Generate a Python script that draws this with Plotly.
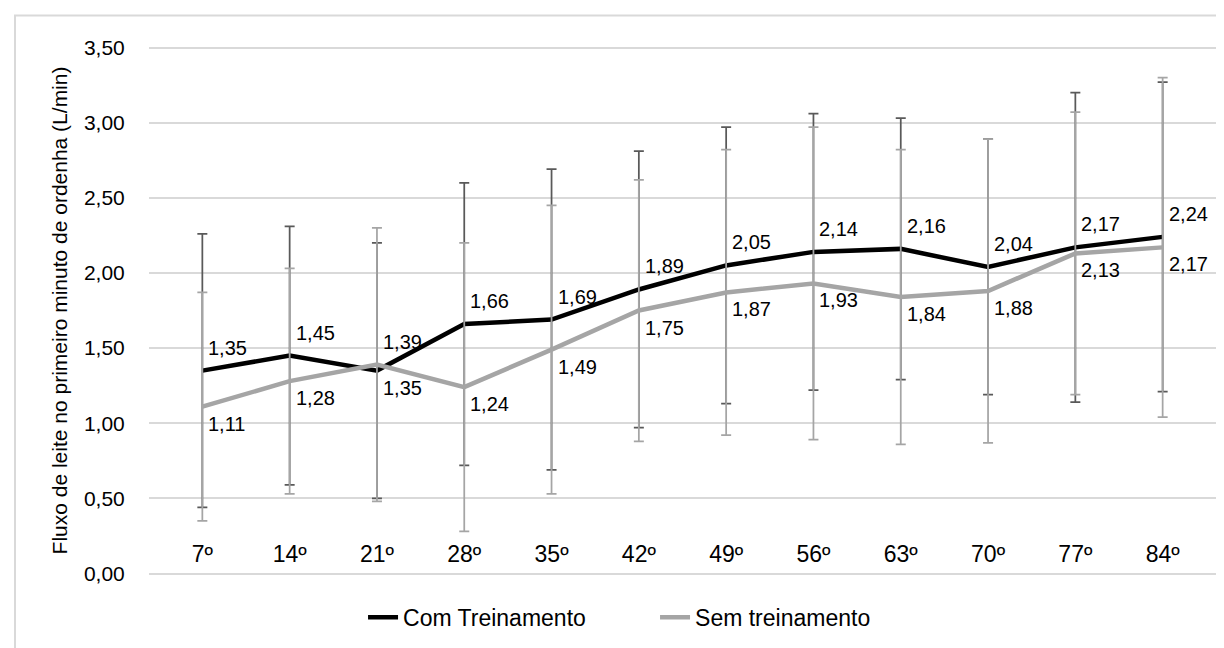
import plotly.graph_objects as go

days = ["7º", "14º", "21º", "28º", "35º", "42º", "49º", "56º", "63º", "70º", "77º", "84º"]
com_mean = [1.35, 1.45, 1.35, 1.66, 1.69, 1.89, 2.05, 2.14, 2.16, 2.04, 2.17, 2.24]
com_sd = [0.91, 0.86, 0.85, 0.94, 1.00, 0.92, 0.92, 0.92, 0.87, 0.85, 1.03, 1.03]
sem_mean = [1.11, 1.28, 1.39, 1.24, 1.49, 1.75, 1.87, 1.93, 1.84, 1.88, 2.13, 2.17]
sem_sd = [0.76, 0.75, 0.91, 0.96, 0.96, 0.87, 0.95, 1.04, 0.98, 1.01, 0.94, 1.13]
y_ticks = [0, 0.5, 1.0, 1.5, 2.0, 2.5, 3.0, 3.5]

def fmt(v):
    return f"{v:.2f}".replace(".", ",")

FONT = "Liberation Sans, Arial, sans-serif"

fig = go.Figure()
fig.add_trace(go.Scatter(
    x=days, y=com_mean, name="Com Treinamento", mode="lines",
    line=dict(color="#000000", width=4.5),
    error_y=dict(type="data", array=com_sd, visible=True, color="#595959", thickness=1.75, width=5),
))
fig.add_trace(go.Scatter(
    x=days, y=sem_mean, name="Sem treinamento", mode="lines",
    line=dict(color="#A5A5A5", width=4.5),
    error_y=dict(type="data", array=sem_sd, visible=True, color="#A5A5A5", thickness=1.75, width=5),
))

# data labels: Com above-right, Sem below-right (swapped where the lines cross at 21º)
annotations = []
for i, d in enumerate(days):
    com_above = com_mean[i] >= sem_mean[i]
    for val, above in ((com_mean[i], com_above), (sem_mean[i], not com_above)):
        annotations.append(dict(
            x=d, y=val, xref="x", yref="y", text=fmt(val), showarrow=False,
            xanchor="left", yanchor="bottom" if above else "top",
            xshift=4, yshift=10 if above else -4,
            font=dict(family=FONT, size=20, color="#000000"),
        ))

fig.update_layout(
    width=1224, height=648,
    margin=dict(l=141, r=16, t=37.5, b=80.5, autoexpand=False),
    paper_bgcolor="white", plot_bgcolor="white",
    separators=",.",
    font=dict(family=FONT, size=20, color="#000000"),
    showlegend=True,
    legend=dict(orientation="h", x=0.2006, xanchor="left", y=-0.08, yanchor="middle",
                font=dict(family=FONT, size=23, color="#000000"), traceorder="normal",
                entrywidth=247, entrywidthmode="pixels"),
    annotations=annotations,
    shapes=[dict(type="rect", xref="paper", yref="paper",
                 x0=-0.1256, x1=1.05, y0=-0.25, y1=1.0575,
                 line=dict(color="#D9D9D9", width=2), fillcolor="rgba(0,0,0,0)", layer="below")],
)
fig.update_xaxes(type="category", showgrid=False, zeroline=False, showline=False,
                 ticks="", anchor="free", position=0.07,
                 tickfont=dict(family=FONT, size=23, color="#000000"))
fig.update_yaxes(range=[-0.01, 3.51], tickmode="array", tickvals=y_ticks, tickformat=".2f",
                 showgrid=True, gridcolor="#D9D9D9", gridwidth=1.5, zeroline=False, showline=False,
                 ticks="outside", ticklen=19, tickcolor="rgba(0,0,0,0)", automargin=False,
                 tickfont=dict(family=FONT, size=21, color="#000000"),
                 title=dict(text="Fluxo de leite no primeiro minuto de ordenha (L/min)",
                            font=dict(family=FONT, size=21, color="#000000"), standoff=10))

fig.write_html("out.html")
